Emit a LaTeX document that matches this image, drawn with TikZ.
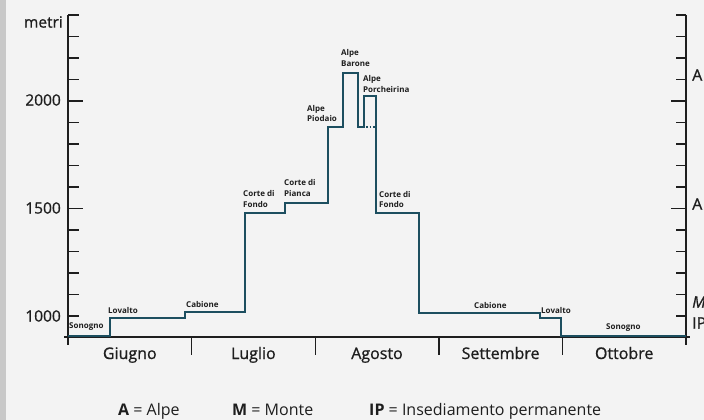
\documentclass[tikz,border=0pt]{standalone}
\usepackage{fontspec}
\setmainfont{Open Sans}
\newfontfamily\medfont[FakeBold=0.9]{Open Sans}
\usepackage{tikz}
\definecolor{mybg}{RGB}{243,243,243}
\definecolor{mystrip}{RGB}{200,200,200}
\definecolor{myteal}{RGB}{28,78,95}
\definecolor{mydark}{RGB}{30,30,30}
\tikzset{
  axis/.style={line width=1.4pt, color=mydark},
  route/.style={line width=2pt, color=myteal, line join=miter},
  place/.style={font=\bfseries\fontsize{8}{10.5}\selectfont, align=left,
    anchor=west, inner sep=0pt, text=mydark},
  scalelbl/.style={font=\medfont\fontsize{15.5}{18}\selectfont, anchor=east,
    inner sep=0pt, text=mydark},
  monthlbl/.style={font=\medfont\fontsize{16}{18}\selectfont, anchor=base,
    inner sep=0pt, text=mydark},
  levellbl/.style={font=\medfont\fontsize{16}{18}\selectfont, anchor=west,
    inner sep=0pt, text=mydark},
  keylbl/.style={font=\fontsize{16}{18}\selectfont, anchor=base west,
    inner sep=0pt, text=mydark}
}

\begin{document}
\begin{tikzpicture}[x=1pt, y=-1pt]
  % background
  \fill[mybg] (0,0) rectangle (704,420);
  \fill[mystrip] (0,0) rectangle (6,420);
  \useasboundingbox (0,0) rectangle (704,420);

  % axes
  \draw[axis] (68,15) -- (68,345);
  \draw[axis] (686,15) -- (686,345);
  \draw[axis] (64,337) -- (690,337);
  \foreach \k in {0,...,14} {
    \draw[axis] (68,316-21.5*\k) -- (79,316-21.5*\k);
    \draw[axis] (686,316-21.5*\k) -- (676,316-21.5*\k);
  }
  \foreach \k in {5,10} {
    \draw[axis] (68,316-21.5*\k) -- (83,316-21.5*\k);
    \draw[axis] (686,316-21.5*\k) -- (671,316-21.5*\k);
  }
  \foreach \i in {1,...,4}
    \draw[axis] (68+123.6*\i,337) -- (68+123.6*\i,355);

  % scale labels
  \node[scalelbl] (metri) at (63,22) {metri};
  \node[scalelbl] (h2000) at (61,100) {2000};
  \node[scalelbl] (h1500) at (61,208) {1500};
  \node[scalelbl] (h1000) at (61,316) {1000};

  % months
  \foreach \m [count=\i] in {Giugno,Luglio,Agosto,Settembre,Ottobre}
    \node[monthlbl] (month\i) at ({68+123.6*(\i-0.5)},359) {\m};

  % right side levels
  \node[levellbl] (lvA1) at (692,75) {A};
  \node[levellbl] (lvA2) at (692,204) {A};
  \node[levellbl] (lvM) at (692,302) {\itshape M};
  \node[levellbl] (lvIP) at (692,323) {IP};

  % route of the herd
  \draw[route] (68,335.5) -- (110,335.5) -- (110,317.5) -- (185,317.5)
    -- (185,312) -- (245,312) -- (245,213) -- (285,213) -- (285,203)
    -- (328,203) -- (328,127) -- (343,127) -- (343,73) -- (358,73)
    -- (358,127) -- (364,127) -- (364,96) -- (376,96) -- (376,213)
    -- (419,213) -- (419,312.5) -- (540,312.5) -- (540,317.5)
    -- (561,317.5) -- (561,335.5) -- (686,335.5);
  \draw[route, line width=1.6pt, dotted] (366,127) -- (376,127);

  % places
  \node[place] (sonogno1) at (69,327) {Sonogno};
  \node[place] (lovalto1) at (108,310) {Lovalto};
  \node[place] (cabione1) at (186,304) {Cabione};
  \node[place] (fondo1) at (243,199) {Corte di\\Fondo};
  \node[place] (pianca) at (284,188) {Corte di\\Pianca};
  \node[place] (piodaio) at (307,113.5) {Alpe\\Piodaio};
  \node[place] (barone) at (341,58) {Alpe\\Barone};
  \node[place] (porcheirina) at (363,84) {Alpe\\Porcheirina};
  \node[place] (fondo2) at (379,199.5) {Corte di\\Fondo};
  \node[place] (cabione2) at (474,305) {Cabione};
  \node[place] (lovalto2) at (541,310) {Lovalto};
  \node[place] (sonogno2) at (606,328) {Sonogno};

  % key
  \node[keylbl] (keyA) at (118,415) {\textbf{A} = Alpe};
  \node[keylbl] (keyM) at (232,415) {\textbf{M} = Monte};
  \node[keylbl] (keyIP) at (369,415) {\textbf{IP} = Insediamento permanente};
\end{tikzpicture}
\end{document}
